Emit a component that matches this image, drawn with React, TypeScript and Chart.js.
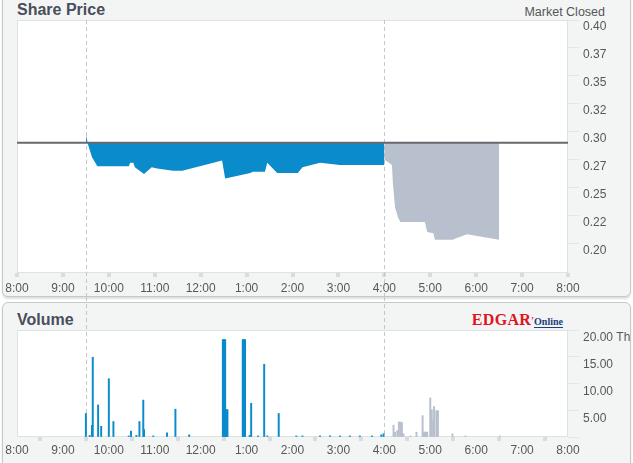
import React, { useEffect, useRef } from 'react';
import { Chart, registerables } from 'chart.js';

Chart.register(...registerables);

// ---------- data ----------
const PREV_CLOSE = 0.29;

const PRICE_TIMES = ['9:30', '9:31', '9:32', '9:33', '9:38', '9:45', '10:26', '10:28', '10:32', '10:34', '10:46', '10:56', '11:03', '11:24', '11:36', '12:28', '12:32', '13:05', '13:08', '13:24', '13:27', '13:40', '14:07', '14:13', '14:36', '15:02', '16:00'];
const PRICE_VALUES = [0.29, 0.297, 0.29, 0.288, 0.277, 0.269, 0.269, 0.272, 0.272, 0.268, 0.262, 0.268, 0.267, 0.265, 0.265, 0.274, 0.258, 0.263, 0.264, 0.264, 0.272, 0.263, 0.263, 0.268, 0.272, 0.27, 0.27];

const AH_PRICE_TIMES = ['16:00', '16:10', '16:11', '16:14', '16:18', '16:21', '16:53', '16:56', '17:04', '17:06', '17:29', '17:48', '18:30'];
const AH_PRICE_VALUES = [0.275, 0.27, 0.255, 0.232, 0.223, 0.219, 0.219, 0.21, 0.209, 0.203, 0.203, 0.208, 0.203];

const VOL_TIMES = ['9:30', '9:35', '9:38', '9:39', '9:46', '9:50', '10:00', '10:06', '10:26', '10:29', '10:36', '10:40', '10:45', '10:46', '10:58', '11:16', '11:27', '11:45', '12:29', '12:30', '12:31', '12:32', '12:33', '12:34', '12:35', '12:55', '12:56', '12:57', '12:58', '13:04', '13:06', '13:15', '13:23', '13:27', '13:42', '14:05', '14:13', '14:36', '14:49', '15:02', '15:15', '15:28', '15:44', '15:56', '15:59'];
const VOL_VALUES = [4.4, 0.3, 2.2, 14.9, 6.0, 2.0, 10.9, 2.9, 0.2, 1.1, 0.3, 2.9, 6.9, 1.4, 0.2, 0.8, 5.2, 0.4, 18.2, 18.2, 18.2, 18.2, 5.1, 5.1, 5.1, 18.2, 18.2, 18.2, 18.2, 0.3, 6.3, 0.2, 13.6, 0.2, 4.4, 0.2, 0.2, 0.2, 0.2, 0.2, 0.2, 0.2, 0.2, 0.4, 0.6];

const AH_VOL_TIMES = ['16:12', '16:14', '16:17', '16:19', '16:21', '16:23', '16:25', '16:34', '16:42', '16:50', '16:51', '16:52', '16:53', '16:54', '16:55', '16:56', '17:00', '17:02', '17:04', '17:05', '17:08', '17:09', '17:10', '17:29', '17:46', '18:31'];
const AH_VOL_VALUES = [2.2, 0.9, 1.2, 2.8, 2.8, 2.7, 0.6, 0.2, 0.9, 4.0, 0.9, 0.9, 0.9, 0.9, 0.9, 0.9, 7.3, 5.1, 3.1, 5.7, 4.9, 4.9, 4.9, 0.6, 0.2, 0.2];

const X_TICK_TIMES = ['8:00', '9:00', '10:00', '11:00', '12:00', '13:00', '14:00', '15:00', '16:00', '17:00', '18:00', '19:00', '20:00'];
const X_TICK_LABELS = ['8:00', '9:00', '10:00', '11:00', '12:00', '1:00', '2:00', '3:00', '4:00', '5:00', '6:00', '7:00', '8:00'];

const PRICE_TICKS = [0.2, 0.225, 0.25, 0.275, 0.3, 0.325, 0.35, 0.375, 0.4];
const PRICE_TICK_LABELS = ['0.20', '0.22', '0.25', '0.27', '0.30', '0.32', '0.35', '0.37', '0.40'];
const PRICE_MIN = 0.1733;
const PRICE_MAX = 0.4;

const VOL_TICKS = [0, 5, 10, 15, 20];
const VOL_TICK_LABELS = ['', '5.00', '10.00', '15.00', '20.00 Th'];
const VOL_MAX = 20;

const SESSION_MARKS = ['9:30', '16:00'];

// ---------- styles ----------
const BLUE = '#0a8bcb';
const GRAY = '#b8bfcd';
const FONT = "'Liberation Sans', Arial, sans-serif";
const TICK_COLOR = '#575757';

const toMin = (t: string) => {
  const [h, m] = t.split(':').map(Number);
  return h * 60 + m;
};

const bgPlugin = {
  id: 'plotBg',
  beforeDraw(chart: any) {
    const { ctx, chartArea: a } = chart;
    ctx.save();
    ctx.fillStyle = '#ffffff';
    ctx.fillRect(a.left, a.top, a.right - a.left, a.bottom - a.top);
    ctx.strokeStyle = '#dde2e5';
    ctx.lineWidth = 1;
    ctx.strokeRect(a.left + 0.5, a.top + 0.5, a.right - a.left - 1, a.bottom - a.top - 1);
    ctx.restore();
  },
};

const makeDashPlugin = (toCanvasBottom: boolean) => ({
  id: 'sessionDash',
  beforeDatasetsDraw(chart: any) {
    const { ctx, chartArea: a, scales } = chart;
    ctx.save();
    ctx.strokeStyle = '#c4c8cc';
    ctx.lineWidth = 1;
    ctx.setLineDash([4, 3]);
    SESSION_MARKS.forEach((t) => {
      const x = Math.round(scales.x.getPixelForValue(toMin(t))) + 0.5;
      ctx.beginPath();
      ctx.moveTo(x, toCanvasBottom ? a.top : 0);
      ctx.lineTo(x, toCanvasBottom ? chart.height : a.bottom);
      ctx.stroke();
    });
    ctx.restore();
  },
});

const xScale = (height: number, pad: number) => ({
  type: 'linear' as const,
  min: toMin(X_TICK_TIMES[0]),
  max: toMin(X_TICK_TIMES[X_TICK_TIMES.length - 1]),
  offset: false,
  afterBuildTicks: (s: any) => {
    s.ticks = X_TICK_TIMES.map((t) => ({ value: toMin(t) }));
  },
  afterFit: (s: any) => {
    s.height = height;
  },
  grid: { drawOnChartArea: false, tickLength: 4, color: '#d7dcdf', lineWidth: 4 },
  border: { display: false },
  ticks: {
    autoSkip: false,
    maxRotation: 0,
    padding: pad,
    color: TICK_COLOR,
    font: { size: 12, family: FONT },
    callback: (_v: any, i: number) => X_TICK_LABELS[i],
  },
});

export default function App() {
  const priceRef = useRef<HTMLCanvasElement>(null);
  const volRef = useRef<HTMLCanvasElement>(null);

  useEffect(() => {
    const price = new Chart(priceRef.current!, {
      type: 'line',
      data: {
        datasets: [
          {
            data: [
              { x: toMin(X_TICK_TIMES[0]), y: PREV_CLOSE },
              { x: toMin(X_TICK_TIMES[X_TICK_TIMES.length - 1]), y: PREV_CLOSE },
            ],
            borderColor: '#666a6e',
            borderWidth: 2,
            pointRadius: 0,
            fill: false,
            order: 0,
          },
          {
            data: PRICE_TIMES.map((t, i) => ({ x: toMin(t), y: PRICE_VALUES[i] })),
            borderColor: 'rgba(0,0,0,0)',
            borderWidth: 0,
            backgroundColor: BLUE,
            fill: { value: PREV_CLOSE },
            pointRadius: 0,
            tension: 0,
            order: 1,
          },
          {
            data: AH_PRICE_TIMES.map((t, i) => ({ x: toMin(t), y: AH_PRICE_VALUES[i] })),
            borderColor: 'rgba(0,0,0,0)',
            borderWidth: 0,
            backgroundColor: GRAY,
            fill: { value: PREV_CLOSE },
            pointRadius: 0,
            tension: 0,
            order: 2,
          },
        ],
      },
      options: {
        animation: false,
        responsive: false,
        events: [],
        layout: { padding: { left: 17, top: 20, right: 0, bottom: 0 } },
        plugins: { legend: { display: false }, tooltip: { enabled: false } },
        scales: {
          x: xScale(24, 4),
          y: {
            type: 'linear',
            position: 'right',
            min: PRICE_MIN,
            max: PRICE_MAX,
            afterBuildTicks: (s: any) => {
              s.ticks = PRICE_TICKS.map((v) => ({ value: v }));
            },
            afterFit: (s: any) => {
              s.width = 65;
            },
            grid: { drawOnChartArea: false, tickLength: 11, color: '#e2e6e9' },
            border: { display: false },
            ticks: {
              padding: 4,
              labelOffset: 7,
              color: TICK_COLOR,
              font: { size: 12, family: FONT },
              callback: (_v: any, i: number) => PRICE_TICK_LABELS[i],
            },
          },
        },
      } as any,
      plugins: [bgPlugin, makeDashPlugin(true)],
    });

    const vol = new Chart(volRef.current!, {
      type: 'bar',
      data: {
        datasets: [
          {
            data: VOL_TIMES.map((t, i) => ({ x: toMin(t), y: VOL_VALUES[i] })),
            backgroundColor: BLUE,
            borderWidth: 0,
            barThickness: 1.3,
            grouped: false,
          },
          {
            data: AH_VOL_TIMES.map((t, i) => ({ x: toMin(t), y: AH_VOL_VALUES[i] })),
            backgroundColor: GRAY,
            borderWidth: 0,
            barThickness: 1.3,
            grouped: false,
          },
        ],
      },
      options: {
        animation: false,
        responsive: false,
        events: [],
        layout: { padding: { left: 17, top: 33, right: 0, bottom: 0 } },
        plugins: { legend: { display: false }, tooltip: { enabled: false } },
        scales: {
          x: xScale(26, 2),
          y: {
            type: 'linear',
            position: 'right',
            min: 0,
            max: VOL_MAX,
            afterBuildTicks: (s: any) => {
              s.ticks = VOL_TICKS.map((v) => ({ value: v }));
            },
            afterFit: (s: any) => {
              s.width = 65;
            },
            grid: { drawOnChartArea: false, tickLength: 11, color: '#e2e6e9' },
            border: { display: false },
            ticks: {
              padding: 4,
              labelOffset: 8,
              color: TICK_COLOR,
              font: { size: 12, family: FONT },
              callback: (_v: any, i: number) => VOL_TICK_LABELS[i],
            },
          },
        },
      } as any,
      plugins: [bgPlugin, makeDashPlugin(false)],
    });

    return () => {
      price.destroy();
      vol.destroy();
    };
  }, []);

  const panel: React.CSSProperties = {
    position: 'absolute',
    left: 2,
    width: 629,
    boxSizing: 'border-box',
    border: '1px solid #c3c8cc',
    borderRadius: 6,
    background: '#f3f5f5',
    boxShadow: '0 2px 2px rgba(0,0,0,0.13)',
  };

  return (
    <div
      style={{
        position: 'fixed',
        left: 0,
        top: 0,
        width: 633,
        height: 463,
        overflow: 'hidden',
        background: '#ffffff',
        fontFamily: FONT,
      }}
    >
      <div style={{ ...panel, top: -10, height: 307 }} />
      <div style={{ ...panel, top: 302, height: 175 }} />

      <div
        style={{
          position: 'absolute',
          left: 17,
          top: 1.5,
          fontSize: 16,
          lineHeight: '16px',
          fontWeight: 'bold',
          color: '#4a4e5a',
          whiteSpace: 'nowrap',
        }}
      >
        Share Price
      </div>
      <div
        style={{
          position: 'absolute',
          right: 28,
          top: 5.7,
          fontSize: 12.5,
          lineHeight: '13px',
          color: '#555',
          whiteSpace: 'nowrap',
        }}
      >
        Market Closed
      </div>
      <div
        style={{
          position: 'absolute',
          left: 17,
          top: 311.5,
          fontSize: 16,
          lineHeight: '16px',
          fontWeight: 'bold',
          color: '#4a4e5a',
          whiteSpace: 'nowrap',
        }}
      >
        Volume
      </div>
      <div
        style={{
          position: 'absolute',
          right: 70,
          top: 311.6,
          lineHeight: '16px',
          whiteSpace: 'nowrap',
          fontFamily: "'Liberation Serif', 'Times New Roman', serif",
          fontWeight: 'bold',
        }}
      >
        <span style={{ color: '#e0141e', fontSize: 16, letterSpacing: 0.3 }}>EDGAR</span>
        <span style={{ color: '#e0141e', fontSize: 9, verticalAlign: 'top' }}>’</span>
        <span
          style={{
            color: '#1c3f7c',
            fontSize: 10,
            borderBottom: '1px solid #1c3f7c',
          }}
        >
          Online
        </span>
      </div>

      <canvas
        ref={priceRef}
        width={633}
        height={297}
        style={{ position: 'absolute', left: 0, top: 0, width: 633, height: 297 }}
      />
      <canvas
        ref={volRef}
        width={633}
        height={166}
        style={{ position: 'absolute', left: 0, top: 297, width: 633, height: 166 }}
      />
    </div>
  );
}
